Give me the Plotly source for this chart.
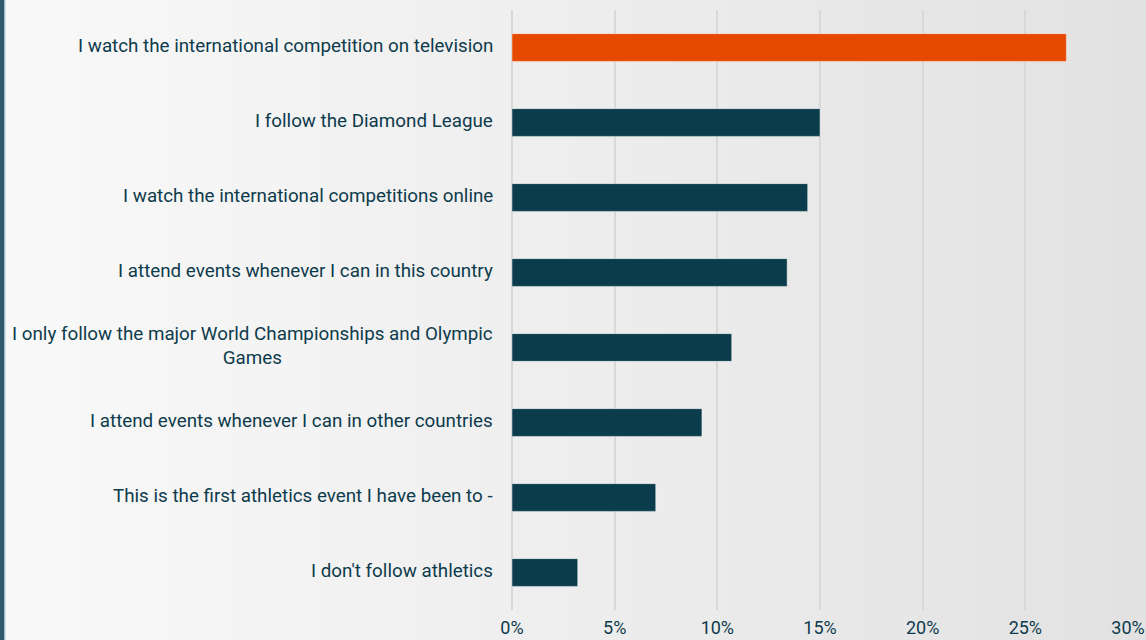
import plotly.graph_objects as go

# Survey responses: how respondents follow athletics
categories = [
    "I watch the international competition on television",
    "I follow the Diamond League",
    "I watch the international competitions online",
    "I attend events whenever I can in this country",
    "I only follow the major World Championships and Olympic<br>Games",
    "I attend events whenever I can in other countries",
    "This is the first athletics event I have been to -",
    "I don't follow athletics",
]
shares = [27.0, 15.0, 14.4, 13.4, 10.7, 9.25, 7.0, 3.2]
x_ticks = [0, 5, 10, 15, 20, 25, 30]
x_tick_labels = ["0%", "5%", "10%", "15%", "20%", "25%", "30%"]

W, H = 1146, 640
ML, MR, MT, MB = 512, 18, 10, 30
TEXT = "#0d3b4c"
ORANGE = "#e54900"
TEAL = "#0a3c4b"

colors = [ORANGE] + [TEAL] * (len(categories) - 1)
ids = list(range(len(categories)))

fig = go.Figure(
    go.Bar(
        x=shares,
        y=ids,
        orientation="h",
        width=0.37,
        marker=dict(color=colors, line=dict(color="rgba(255,255,255,0.45)", width=1)),
        hoverinfo="skip",
    )
)

# soft horizontal background gradient across the whole canvas
plot_w = W - ML - MR
shapes = []
n = 60
c0, c1 = (0xF9, 0xF9, 0xF9), (0xE2, 0xE2, 0xE2)
for i in range(n):
    t = i / (n - 1)
    c = tuple(round(a + (b - a) * t) for a, b in zip(c0, c1))
    px0 = W * i / n
    px1 = W * (i + 1) / n + 1
    shapes.append(dict(
        type="rect", layer="below", xref="paper", yref="paper",
        x0=(px0 - ML) / plot_w, x1=(px1 - ML) / plot_w,
        y0=-1, y1=2,
        fillcolor="rgb(%d,%d,%d)" % c, line=dict(width=0),
    ))
# dark accent strip on the left edge
shapes.append(dict(
    type="rect", layer="above", xref="paper", yref="paper",
    x0=(0 - ML) / plot_w, x1=(4.5 - ML) / plot_w, y0=-1, y1=2,
    fillcolor="#2f5a6e", line=dict(width=0),
))
shapes.append(dict(
    type="rect", layer="above", xref="paper", yref="paper",
    x0=(4.5 - ML) / plot_w, x1=(5.5 - ML) / plot_w, y0=-1, y1=2,
    fillcolor="#b9cdd8", line=dict(width=0),
))

annotations = [
    dict(
        x=0, y=i, xref="x", yref="y", text=label, showarrow=False,
        xanchor="right", yanchor="middle", align="center",
        xshift=-17, yshift=2,
        font=dict(family="Roboto", size=18.8, color=TEXT),
    )
    for i, label in enumerate(categories)
]

fig.update_layout(
    width=W, height=H,
    margin=dict(l=ML, r=MR, t=MT, b=MB),
    paper_bgcolor="#f2f2f2",
    plot_bgcolor="rgba(0,0,0,0)",
    showlegend=False,
    shapes=shapes,
    annotations=annotations,
    font=dict(family="Roboto", color=TEXT),
    bargap=0.63,
)
fig.update_xaxes(
    range=[0, 30], tickvals=x_ticks, ticktext=x_tick_labels,
    showgrid=True, gridcolor="#d8d8d8", gridwidth=2,
    zeroline=True, zerolinecolor="#d8d8d8", zerolinewidth=2,
    showline=False, ticks="", automargin=False,
    tickfont=dict(family="Roboto", size=18, color=TEXT),
    ticklabelstandoff=5, fixedrange=True,
)
fig.update_yaxes(
    range=[len(categories) - 0.5, -0.5], showticklabels=False,
    showgrid=False, zeroline=False, showline=False, ticks="",
    automargin=False, fixedrange=True,
)

fig.write_html("out.html", config=dict(displayModeBar=False))
